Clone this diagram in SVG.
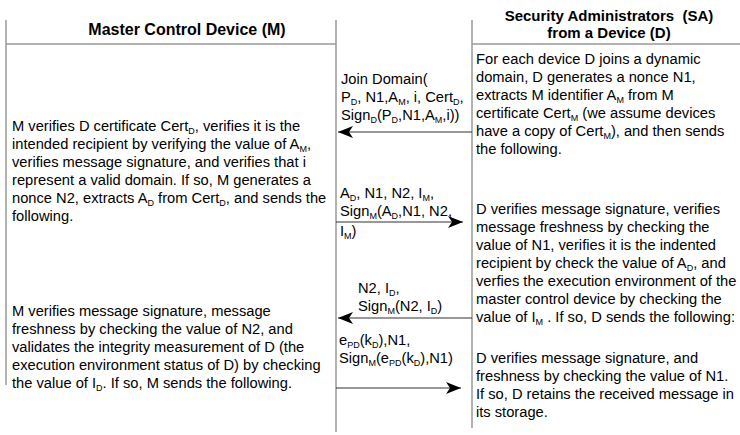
<svg xmlns="http://www.w3.org/2000/svg" width="740" height="435" viewBox="0 0 740 435">
<defs>
<style>
text{font-family:"Liberation Sans",Arial,sans-serif;font-size:14.7px;fill:#000}
.h{font-weight:bold;text-anchor:middle}
.s{font-size:9px;baseline-shift:-3px}
.lane{stroke:#999;stroke-width:1.5;fill:none}
.msg{stroke:#333;stroke-width:1.2;fill:none}
</style>
<marker id="ah" markerUnits="userSpaceOnUse" markerWidth="16" markerHeight="14" refX="15" refY="6" orient="auto">
<path d="M0,0 L15,6 L0,12 L4,6 Z" fill="#000"/>
</marker>
</defs>
<rect width="740" height="435" fill="#fff"/>
<g id="lanes">
<line class="lane" x1="6" y1="20" x2="6" y2="385"/>
<line class="lane" x1="336" y1="20" x2="336" y2="432"/>
<line class="lane" x1="472" y1="20" x2="472" y2="428"/>
<line class="lane" x1="6" y1="44" x2="336" y2="44"/>
<line class="lane" x1="472" y1="44" x2="740" y2="44"/>
</g>
<g id="header-m"><text class="h" x="187" y="35" style="font-size:16px">Master Control Device (M)</text></g>
<g id="header-sa">
<text class="h" x="609" y="21" style="font-size:15px">Security Administrators&#160; (SA)</text>
<text class="h" x="609" y="38" style="font-size:15px">from a Device (D)</text>
</g>
<g id="sa-step1">
<text x="476" y="64">For each device D joins a dynamic</text>
<text x="476" y="82">domain, D generates a nonce N1,</text>
<text x="476" y="100">extracts M identifier A<tspan class="s">M</tspan> from M</text>
<text x="476" y="118">certificate Cert<tspan class="s">M</tspan> (we assume devices</text>
<text x="476" y="136">have a copy of Cert<tspan class="s">M</tspan>), and then sends</text>
<text x="476" y="154">the following.</text>
</g>
<g id="msg1-label">
<text x="341" y="84">Join Domain(</text>
<text x="341" y="102">P<tspan class="s">D</tspan>, N1,A<tspan class="s">M</tspan>, i, Cert<tspan class="s">D</tspan>,</text>
<text x="341" y="120">Sign<tspan class="s">D</tspan>(P<tspan class="s">D</tspan>,N1,A<tspan class="s">M</tspan>,i))</text>
</g>
<g id="m-step1">
<text x="12" y="131">M verifies D certificate Cert<tspan class="s">D</tspan>, verifies it is the</text>
<text x="12" y="149">intended recipient by verifying the value of A<tspan class="s">M</tspan>,</text>
<text x="12" y="167">verifies message signature, and verifies that i</text>
<text x="12" y="185">represent a valid domain. If so, M generates a</text>
<text x="12" y="203">nonce N2, extracts A<tspan class="s">D</tspan> from Cert<tspan class="s">D</tspan>, and sends the</text>
<text x="12" y="221">following.</text>
</g>
<g id="msg2-label">
<text x="340" y="198">A<tspan class="s">D</tspan>, N1, N2, I<tspan class="s">M</tspan>,</text>
<text x="340" y="216">Sign<tspan class="s">M</tspan>(A<tspan class="s">D</tspan>,N1, N2,</text>
<text x="340" y="236">I<tspan class="s">M</tspan>)</text>
</g>
<g id="sa-step2">
<text x="476" y="214">D verifies message signature, verifies</text>
<text x="476" y="232">message freshness by checking the</text>
<text x="476" y="250">value of N1, verifies it is the indented</text>
<text x="476" y="268">recipient by check the value of A<tspan class="s">D</tspan>, and</text>
<text x="476" y="286">verfies the execution environment of the</text>
<text x="476" y="304">master control device by checking the</text>
<text x="476" y="322">value of I<tspan class="s">M</tspan> . If so, D sends the following:</text>
</g>
<g id="msg3-label">
<text x="358" y="293">N2, I<tspan class="s">D</tspan>,</text>
<text x="358" y="311">Sign<tspan class="s">M</tspan>(N2, I<tspan class="s">D</tspan>)</text>
</g>
<g id="m-step2">
<text x="12" y="316">M verifies message signature, message</text>
<text x="12" y="334">freshness by checking the value of N2, and</text>
<text x="12" y="352">validates the integrity measurement of D (the</text>
<text x="12" y="370">execution environment status of D) by checking</text>
<text x="12" y="388">the value of I<tspan class="s">D</tspan>. If so, M sends the following.</text>
</g>
<g id="msg4-label">
<text x="339" y="345">e<tspan class="s">PD</tspan>(k<tspan class="s">D</tspan>),N1,</text>
<text x="339" y="363">Sign<tspan class="s">M</tspan>(e<tspan class="s">PD</tspan>(k<tspan class="s">D</tspan>),N1)</text>
</g>
<g id="sa-step3">
<text x="476" y="363">D verifies message signature, and</text>
<text x="476" y="381">freshness by checking the value of N1.</text>
<text x="476" y="399">If so, D retains the received message in</text>
<text x="476" y="417">its storage.</text>
</g>
<g id="connectors">
<line class="msg" x1="472" y1="132" x2="338" y2="132" marker-end="url(#ah)"/>
<line class="msg" x1="336" y1="222" x2="463" y2="222" marker-end="url(#ah)"/>
<line class="msg" x1="472" y1="318" x2="338" y2="318" marker-end="url(#ah)"/>
<line class="msg" x1="336" y1="388" x2="461" y2="388" marker-end="url(#ah)"/>
</g>
</svg>
